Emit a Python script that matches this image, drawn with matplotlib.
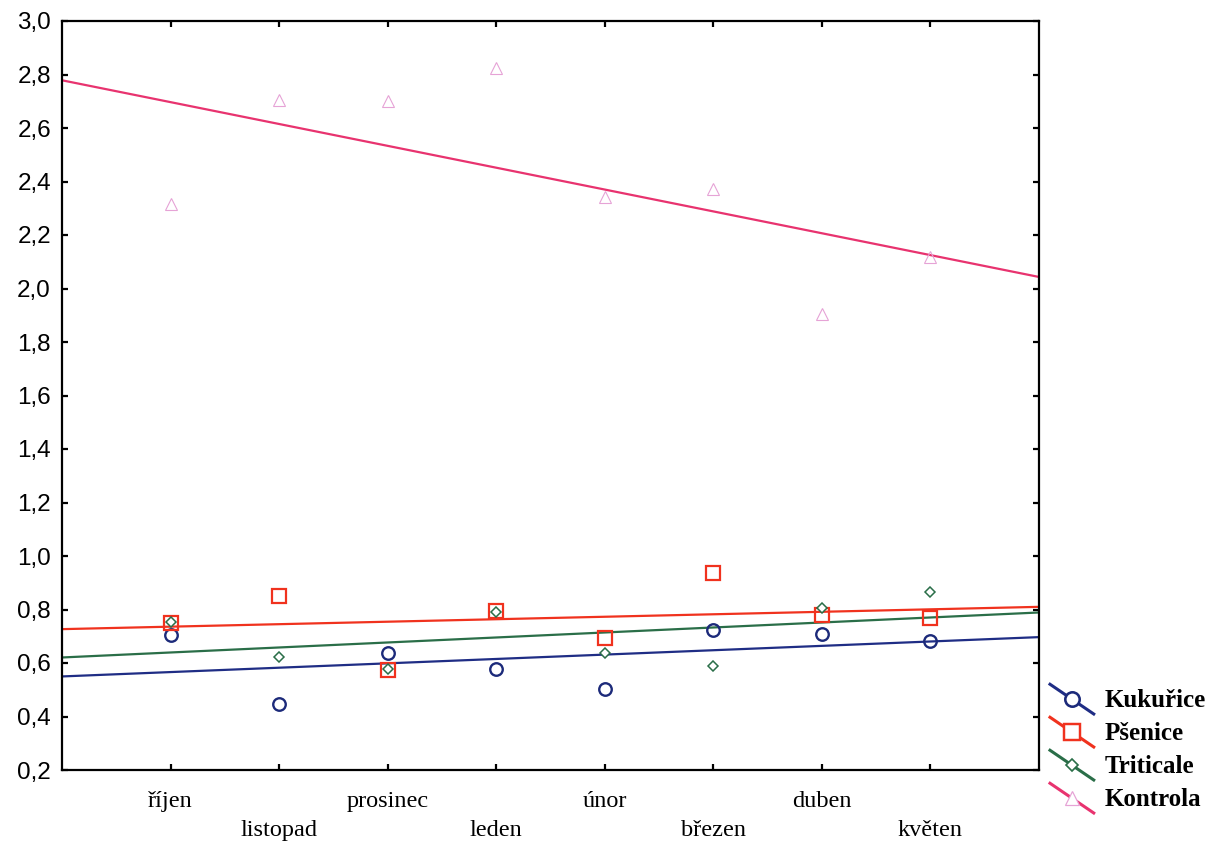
import numpy as np
import matplotlib
matplotlib.use("Agg")
import matplotlib.pyplot as plt
from matplotlib.lines import Line2D
from matplotlib.legend_handler import HandlerLine2D

months = ["říjen", "listopad", "prosinec", "leden", "únor", "březen", "duben", "květen"]
kukurice = [0.703, 0.445, 0.639, 0.579, 0.501, 0.725, 0.710, 0.684]
psenice = [0.751, 0.849, 0.572, 0.796, 0.692, 0.935, 0.781, 0.770]
triticale = [0.755, 0.621, 0.579, 0.789, 0.636, 0.587, 0.804, 0.867]
kontrola = [2.317, 2.705, 2.701, 2.825, 2.343, 2.373, 1.903, 2.119]
series_names = ["Kukuřice", "Pšenice", "Triticale", "Kontrola"]
y_ticks = [0.2, 0.4, 0.6, 0.8, 1.0, 1.2, 1.4, 1.6, 1.8, 2.0, 2.2, 2.4, 2.6, 2.8, 3.0]

styles = [
    dict(line="#1f2d85", marker="o", mec="#1c2a7a", mfc="none", ms=9.0, mew=1.7),
    dict(line="#f0321e", marker="s", mec="#f0321e", mfc="none", ms=10.0, mew=1.6),
    dict(line="#2a6e48", marker="D", mec="#2a6e48", mfc="white", ms=5.0, mew=1.1),
    dict(line="#e8336f", marker="^", mec="#e6a3d6", mfc="none", ms=8.5, mew=0.8),
]

fig = plt.figure(figsize=(12.13, 8.43), dpi=100)
ax = fig.add_axes([62 / 1213, 73 / 843, (1039 - 62) / 1213, (770 - 21) / 843])

x = np.arange(1, len(months) + 1)
xlim = (0, 9)
handles = []
for name, vals, st in zip(series_names, [kukurice, psenice, triticale, kontrola], styles):
    vals = np.asarray(vals)
    ax.plot(x, vals, linestyle="none", marker=st["marker"], mec=st["mec"], mfc=st["mfc"],
            ms=st["ms"], mew=st["mew"], zorder=3)
    k, q = np.polyfit(x, vals, 1)
    xx = np.array(xlim, dtype=float)
    ax.plot(xx, k * xx + q, color=st["line"], lw=1.6, zorder=2)
    h = Line2D([], [], color=st["line"], lw=2.2, marker=st["marker"], mec=st["mec"],
               mfc="white" if st["mfc"] == "none" else st["mfc"], ms=st["ms"] * 1.15,
               mew=st["mew"] * 1.1, label=name)
    handles.append(h)

ax.set_xlim(*xlim)
ax.set_ylim(0.2, 3.0)
ax.set_yticks(y_ticks)
ax.set_yticklabels([f"{v:.1f}".replace(".", ",") for v in y_ticks],
                   fontsize=17.5, family="Liberation Sans")
ax.set_xticks(x)
ax.set_xticklabels([m if i % 2 == 0 else "\n" + m for i, m in enumerate(months)],
                   fontsize=17.5, family="Liberation Serif", linespacing=1.5)
ax.tick_params(axis="both", direction="in", length=4.5, width=1.6, top=True, right=True)
ax.tick_params(axis="x", pad=15)
ax.tick_params(axis="y", pad=8)
for sp in ax.spines.values():
    sp.set_linewidth(1.6)


class DiagHandler(HandlerLine2D):
    def create_artists(self, legend, orig_handle, xdescent, ydescent, width, height, fontsize, trans):
        x0, x1 = -xdescent, -xdescent + width
        y0, y1 = -ydescent + height * 1.3, -ydescent - height * 0.4
        line = Line2D([x0, x1], [y0, y1], color=orig_handle.get_color(), lw=orig_handle.get_linewidth())
        mk = Line2D([(x0 + x1) / 2], [(y0 + y1) / 2], linestyle="none", marker=orig_handle.get_marker(),
                    mec=orig_handle.get_markeredgecolor(), mfc=orig_handle.get_markerfacecolor(),
                    ms=orig_handle.get_markersize(), mew=orig_handle.get_markeredgewidth())
        line.set_transform(trans)
        mk.set_transform(trans)
        return [line, mk]


fig.legend(handles=handles, loc="lower left", bbox_to_anchor=(1050 / 1213, 32 / 843),
           frameon=False, handler_map={Line2D: DiagHandler()}, handlelength=1.75,
           handletextpad=0.45, labelspacing=0.4, borderpad=0, borderaxespad=0,
           prop=dict(family="Liberation Serif", weight="bold", size=18))

fig.savefig("out.png", dpi=100)
